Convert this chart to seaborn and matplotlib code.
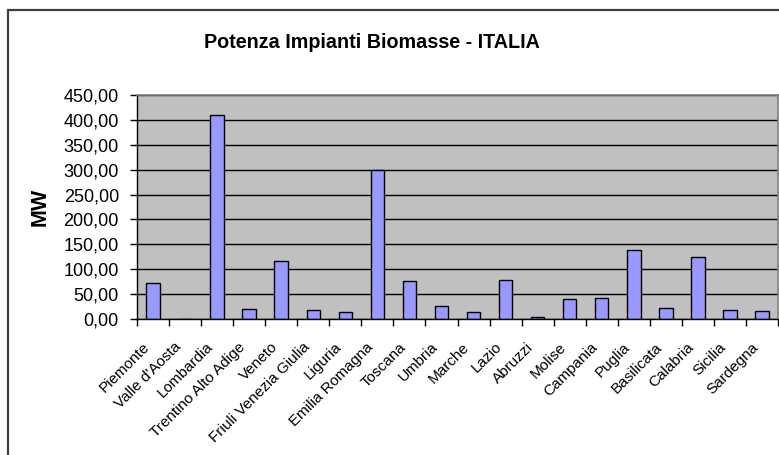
import matplotlib
matplotlib.use("Agg")
import matplotlib.pyplot as plt
import matplotlib.transforms as mtransforms
import seaborn as sns
import pandas as pd
from matplotlib.ticker import FuncFormatter, FixedLocator
from matplotlib.patches import Rectangle

regions = ["Piemonte", "Valle d'Aosta", "Lombardia", "Trentino Alto Adige", "Veneto",
           "Friuli Venezia Giulia", "Liguria", "Emilia Romagna", "Toscana", "Umbria",
           "Marche", "Lazio", "Abruzzi", "Molise", "Campania", "Puglia", "Basilicata",
           "Calabria", "Sicilia", "Sardegna"]
mw = [72, 0, 410, 21, 116.5, 18, 13.5, 300, 76, 25.5,
      13.5, 78, 4, 40, 43, 138.5, 23, 124, 18, 17]
yticks = [0, 50, 100, 150, 200, 250, 300, 350, 400, 450]

df = pd.DataFrame({"Regione": regions, "MW": mw})

sns.set_theme(style="white")
plt.rcParams['font.family'] = ['Liberation Sans', 'DejaVu Sans']

fig = plt.figure(figsize=(7.79, 4.55), dpi=100)
ax = fig.add_axes([137/779, 1-319/455, 641/779, 224/455])

sns.barplot(data=df, x="Regione", y="MW", color="#9999FF", saturation=1,
            edgecolor="black", linewidth=1, width=0.42, ax=ax)

ax.set_facecolor("#C0C0C0")
ax.set_xlim(-0.5, len(regions) - 0.5)
ax.set_ylim(0, 450)
ax.set_yticks(yticks)
ax.yaxis.set_major_formatter(FuncFormatter(lambda v, p: f"{v:.2f}".replace(".", ",")))
ax.yaxis.grid(True, color="black", linewidth=1)
ax.set_axisbelow(True)

ax.xaxis.set_minor_locator(FixedLocator([i - 0.5 for i in range(len(regions) + 1)]))
ax.tick_params(axis="x", which="major", length=0, pad=15, labelsize=11, colors="black")
ax.tick_params(axis="x", which="minor", length=5, width=1, color="black", bottom=True)
ax.tick_params(axis="y", which="major", length=5, width=1, color="black", left=True,
               labelsize=13, labelcolor="black", pad=8)
offset = mtransforms.ScaledTranslation(-11/100, 0, fig.dpi_scale_trans)
for lab in ax.get_xticklabels():
    lab.set_rotation(45)
    lab.set_ha("right")
    lab.set_rotation_mode("anchor")
    lab.set_transform(lab.get_transform() + offset)

for side in ["top", "right"]:
    ax.spines[side].set_color("#808080")
    ax.spines[side].set_linewidth(1.2)
for side in ["left", "bottom"]:
    ax.spines[side].set_color("black")
    ax.spines[side].set_linewidth(1)

ax.set_xlabel("")
ax.set_ylabel("MW", fontsize=15.5, fontweight="bold", labelpad=9, color="black")

fig.text(372/779, 1-43/455, "Potenza Impianti Biomasse - ITALIA", ha="center", va="center",
         fontsize=14.2, fontweight="bold", color="black")

fig.patches.append(Rectangle((8/779, -0.1), 1.2, 1 - 10/455 + 0.1, transform=fig.transFigure,
                             fill=False, edgecolor="#404040", linewidth=1.6))

fig.savefig("out.png", dpi=100)
